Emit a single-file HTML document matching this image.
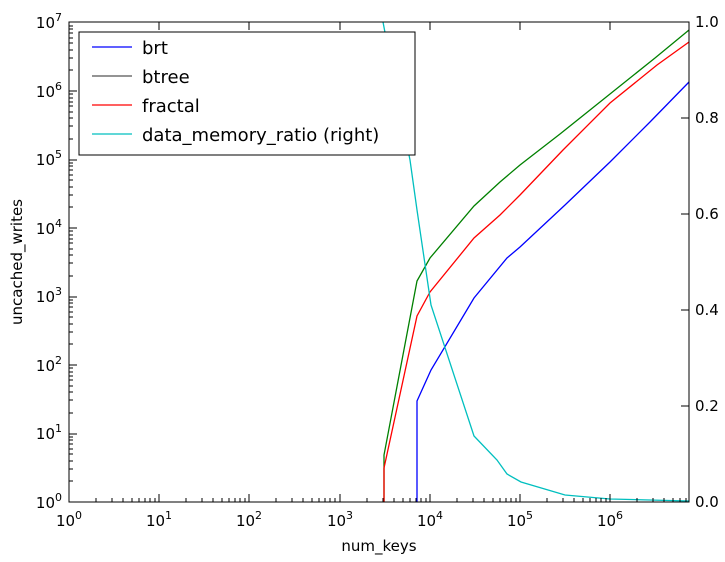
<!DOCTYPE html>
<html><head><style>body{margin:0;background:#fff}svg{display:block;font-family:"DejaVu Sans","Liberation Sans",sans-serif}</style></head><body>
<svg width="725" height="562" xmlns="http://www.w3.org/2000/svg">
<rect width="725" height="562" fill="#fff"/>
<g fill="none" stroke-width="1.3">
<polyline stroke="#008000" points="384,502 384,455 417,281 430,258 474,206 500,182 520,165 560,134 600,102 655,58 689,30"/>
<polyline stroke="#ff0000" points="384,502 384,468 417,316 430,292 474,238 500,215 520,195 563,150 610,103 657,65 689,42"/>
<polyline stroke="#0000ff" points="417,502 417,401 431,370 474,298 507,258 520,247 565,205 610,162 650,122 689,82"/>
<polyline stroke="#00bfbf" points="383,22 395,85 410,160 417,210 431,305 474,436 497,460 507,474 521,482 565,495 610,499 689,501"/>
</g>
<rect x="69" y="22" width="620" height="480" fill="none" stroke="#000" stroke-width="1"/>
<g font-size="15" fill="#000">
<text x="69" y="526" text-anchor="middle">10<tspan dy="-7" font-size="11">0</tspan></text>
<text x="159" y="526" text-anchor="middle">10<tspan dy="-7" font-size="11">1</tspan></text>
<text x="249" y="526" text-anchor="middle">10<tspan dy="-7" font-size="11">2</tspan></text>
<text x="340" y="526" text-anchor="middle">10<tspan dy="-7" font-size="11">3</tspan></text>
<text x="430" y="526" text-anchor="middle">10<tspan dy="-7" font-size="11">4</tspan></text>
<text x="520" y="526" text-anchor="middle">10<tspan dy="-7" font-size="11">5</tspan></text>
<text x="610" y="526" text-anchor="middle">10<tspan dy="-7" font-size="11">6</tspan></text>
<g text-anchor="end">
<text x="62" y="508">10<tspan dy="-7" font-size="11">0</tspan></text>
<text x="62" y="439">10<tspan dy="-7" font-size="11">1</tspan></text>
<text x="62" y="371">10<tspan dy="-7" font-size="11">2</tspan></text>
<text x="62" y="302">10<tspan dy="-7" font-size="11">3</tspan></text>
<text x="62" y="234">10<tspan dy="-7" font-size="11">4</tspan></text>
<text x="62" y="165">10<tspan dy="-7" font-size="11">5</tspan></text>
<text x="62" y="097">10<tspan dy="-7" font-size="11">6</tspan></text>
<text x="62" y="28">10<tspan dy="-7" font-size="11">7</tspan></text>
</g>
<text x="695" y="507">0.0</text>
<text x="695" y="411">0.2</text>
<text x="695" y="315">0.4</text>
<text x="695" y="219">0.6</text>
<text x="695" y="123">0.8</text>
<text x="695" y="27">1.0</text>
<text x="379" y="551" text-anchor="middle">num_keys</text>
<text transform="translate(22,262) rotate(-90)" text-anchor="middle">uncached_writes</text>
</g>
<rect x="79" y="32" width="336" height="123" fill="#fff" stroke="#000"/>
<g stroke-width="1.3">
<line x1="92" y1="47" x2="132" y2="47" stroke="#0000ff"/>
<line x1="92" y1="76" x2="132" y2="76" stroke="#555"/>
<line x1="92" y1="105" x2="132" y2="105" stroke="#ff0000"/>
<line x1="92" y1="134" x2="132" y2="134" stroke="#00bfbf"/>
</g>
<g font-size="18" fill="#000">
<text x="142" y="54">brt</text>
<text x="142" y="83">btree</text>
<text x="142" y="112">fractal</text>
<text x="142" y="141">data_memory_ratio (right)</text>
</g>
<path stroke="#000" fill="none" d="
M159,502v-8M249,502v-8M340,502v-8M430,502v-8M520,502v-8M610,502v-8
M159,22v8M249,22v8M340,22v8M430,22v8M520,22v8M610,22v8
M69,434h8M69,365h8M69,297h8M69,228h8M69,160h8M69,91h8
M689,406h-8M689,310h-8M689,214h-8M689,118h-8"/>
<path stroke="#000" fill="none" d="
M96,502v-4M112,502v-4M123,502v-4M132,502v-4M139,502v-4M145,502v-4M150,502v-4M155,502v-4
M186,502v-4M202,502v-4M213,502v-4M222,502v-4M229,502v-4M235,502v-4M240,502v-4M245,502v-4
M276,502v-4M292,502v-4M303,502v-4M312,502v-4M319,502v-4M325,502v-4M330,502v-4M335,502v-4
M367,502v-4M383,502v-4M394,502v-4M403,502v-4M410,502v-4M416,502v-4M421,502v-4M426,502v-4
M457,502v-4M473,502v-4M484,502v-4M493,502v-4M500,502v-4M506,502v-4M511,502v-4M516,502v-4
M547,502v-4M563,502v-4M574,502v-4M583,502v-4M590,502v-4M596,502v-4M601,502v-4M606,502v-4
M637,502v-4M653,502v-4M664,502v-4M673,502v-4M680,502v-4M686,502v-4
M69,481h4M69,469h4M69,461h4M69,454h4M69,449h4M69,444h4M69,440h4M69,437h4
M69,413h4M69,400h4M69,392h4M69,386h4M69,380h4M69,376h4M69,372h4M69,368h4
M69,344h4M69,332h4M69,324h4M69,317h4M69,312h4M69,307h4M69,303h4M69,300h4
M69,276h4M69,263h4M69,255h4M69,249h4M69,243h4M69,239h4M69,235h4M69,231h4
M69,207h4M69,195h4M69,187h4M69,180h4M69,175h4M69,170h4M69,166h4M69,163h4
M69,139h4M69,126h4M69,118h4M69,112h4M69,106h4M69,102h4M69,98h4M69,94h4
M69,70h4M69,58h4M69,50h4M69,43h4M69,38h4M69,33h4M69,29h4M69,26h4"/>
</svg>
</body></html>
